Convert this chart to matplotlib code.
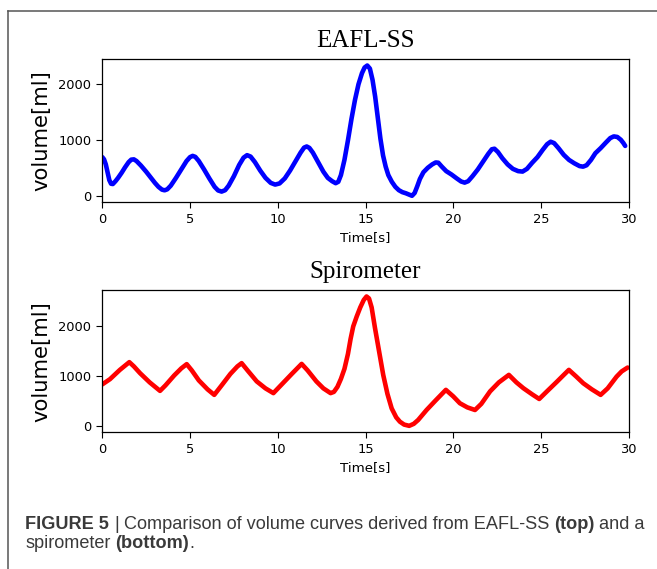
import matplotlib
matplotlib.use("Agg")
import matplotlib.pyplot as plt
from matplotlib.lines import Line2D

# ---------------- data ----------------
eafl_t = [0.0, 0.1, 0.2, 0.3, 0.4, 0.5, 0.6, 0.75, 0.9, 1.1, 1.3, 1.5, 1.65, 1.8,
          1.95, 2.2, 2.5, 2.8, 3.0, 3.2, 3.4, 3.55, 3.7, 3.9, 4.2, 4.5, 4.8, 5.0,
          5.15, 5.3, 5.5, 5.8, 6.1, 6.4, 6.6, 6.8, 7.0, 7.2, 7.5, 7.8, 8.05, 8.25,
          8.45, 8.7, 9.0, 9.3, 9.6, 9.85, 10.1, 10.4, 10.7, 11.0, 11.3, 11.5,
          11.65, 11.8, 12.0, 12.3, 12.6, 12.85, 13.1, 13.3, 13.45, 13.6, 13.8,
          14.0, 14.2, 14.4, 14.6, 14.8, 14.95, 15.1, 15.25, 15.4, 15.55, 15.7,
          15.85, 16.0, 16.15, 16.3, 16.5, 16.7, 16.9, 17.1, 17.3, 17.5, 17.65,
          17.8, 17.95, 18.1, 18.3, 18.55, 18.8, 19.0, 19.15, 19.35, 19.6, 19.9,
          20.2, 20.45, 20.65, 20.85, 21.1, 21.4, 21.7, 22.0, 22.2, 22.35, 22.55,
          22.8, 23.1, 23.4, 23.7, 23.95, 24.2, 24.5, 24.8, 25.1, 25.35, 25.55,
          25.75, 26.0, 26.3, 26.6, 26.9, 27.2, 27.4, 27.6, 27.85, 28.1, 28.4,
          28.7, 28.95, 29.15, 29.35, 29.55, 29.7, 29.8]
eafl_v = [700, 660, 570, 430, 290, 225, 220, 270, 330, 420, 520, 610, 655, 660,
          630, 550, 440, 320, 240, 170, 120, 108, 125, 190, 330, 480, 630, 700,
          722, 705, 630, 480, 320, 170, 105, 85, 110, 190, 360, 560, 690, 735,
          710, 610, 460, 330, 240, 210, 230, 320, 460, 620, 780, 870,
          890, 865, 780, 610, 440, 330, 270, 235, 260, 380, 650,
          1000, 1380, 1720, 2000, 2200, 2300, 2335, 2280, 2080, 1780, 1400,
          1030, 730, 530, 380, 260, 170, 110, 75, 55, 30, 10,
          60, 180, 310, 430, 510, 570, 605, 600, 530, 450, 390,
          320, 265, 245, 270, 360, 480, 620, 760, 840, 850, 790,
          680, 570, 490, 450, 442, 490, 600, 700, 830, 930, 975,
          950, 860, 740, 650, 590, 540, 530, 555, 650, 770, 860,
          960, 1040, 1070, 1060, 1010, 950, 900]

spiro_t = [0.0, 0.44, 1.0, 1.54, 1.8, 2.15, 2.7, 3.29, 3.6, 4.1, 4.5, 4.81, 5.1,
           5.5, 6.0, 6.38, 6.8, 7.3, 7.7, 7.94, 8.3, 8.8, 9.3, 9.75, 10.2, 10.8,
           11.36, 11.7, 12.2, 12.6, 13.01, 13.2, 13.4, 13.6, 13.8, 14.0, 14.15,
           14.3, 14.5, 14.7, 14.9, 15.06, 15.2, 15.35, 15.54, 15.8, 16.01, 16.25,
           16.49, 16.75, 16.96, 17.2, 17.49, 17.75, 18.0, 18.48, 19.0,
           19.58, 20.0, 20.38, 20.8, 21.24, 21.6, 22.1, 22.6, 23.17, 23.6, 24.0,
           24.5, 24.9, 25.4, 25.9, 26.3, 26.59, 27.0, 27.41, 27.9, 28.4, 28.8,
           29.31, 29.6, 29.94]
spiro_v = [840, 945, 1130, 1285, 1200, 1065, 880, 710, 820, 1020, 1160, 1245, 1120,
           920, 740, 630, 820, 1050, 1200, 1265, 1110, 900, 760, 665, 830, 1050,
           1250, 1120, 900, 760, 665, 690, 790, 950, 1150, 1450, 1750,
           2000, 2200, 2380, 2530, 2600, 2560, 2380, 1970, 1450, 1030, 650,
           360, 180, 93, 35, 10, 50, 127, 327, 520,
           730, 600, 462, 380, 327, 450, 700, 880, 1030, 880, 763,
           640, 548, 720, 890, 1030, 1130, 1000, 863, 740, 630, 760,
           995, 1100, 1177]

titles = ["EAFL-SS", "Spirometer"]
colors = ["#0000ff", "#ff0000"]
xlabel = "Time[s]"
ylabel = "volume[ml]"
xticks = [0, 5, 10, 15, 20, 25, 30]
yticks = [0, 1000, 2000]

caption1 = [("FIGURE 5", "bold"), ("|", "normal"),
            ("Comparison of volume curves derived from EAFL-SS", "normal"),
            ("(top)", "bold"), ("and a", "normal")]
caption1_gaps = [True, True, True, True]
caption2 = [("spirometer", "normal"), ("(bottom)", "bold"), (".", "normal")]
caption2_gaps = [True, False]

# ---------------- figure ----------------
W, H = 657, 569
fig = plt.figure(figsize=(W / 100, H / 100), dpi=100)

axes_boxes = [
    [102.3 / W, 1 - 202.3 / H, 526.4 / W, 143.3 / H],
    [102.3 / W, 1 - 432.3 / H, 526.4 / W, 142.3 / H],
]
series = [(eafl_t, eafl_v), (spiro_t, spiro_v)]

for box, (t, v), title, col in zip(axes_boxes, series, titles, colors):
    ax = fig.add_axes(box)
    ax.plot(t, v, color=col, lw=3.3, solid_capstyle="round", solid_joinstyle="round")
    ax.set_xlim(0, 30)
    ax.set_xticks(xticks)
    ax.set_yticks(yticks)
    ax.tick_params(labelsize=9.4, length=4.5, width=0.8)
    ax.set_title(title, fontsize=18, family="Liberation Serif", pad=8.9)
    ax.set_xlabel(xlabel, fontsize=9.6, labelpad=3.5)
    ax.set_ylabel(ylabel, fontsize=15.2)
    ax.yaxis.set_label_coords(-0.097, 0.5)
    for s in ax.spines.values():
        s.set_linewidth(0.9)

# outer frame (left and top edges visible)
fc = "#555555"
fig.add_artist(Line2D([8 / W, 8 / W], [0, 1 - 11 / H], transform=fig.transFigure,
                      color=fc, lw=1.1))
fig.add_artist(Line2D([8 / W, 1], [1 - 11 / H, 1 - 11 / H], transform=fig.transFigure,
                      color=fc, lw=1.1))

# caption, built from runs of normal/bold text
fig.canvas.draw()
renderer = fig.canvas.get_renderer()
fam = "Liberation Sans"
ccol = "#3a3a3a"


def advance(s, weight, size):
    # width of s measured as an advance (independent of glyph ink bearings)
    a = fig.text(0, 0, "I" + s + "I", fontsize=size, weight=weight, family=fam)
    b = fig.text(0, 0, "II", fontsize=size, weight=weight, family=fam)
    w = a.get_window_extent(renderer).width - b.get_window_extent(renderer).width
    a.remove()
    b.remove()
    return w


def space(size):
    return advance(" ", "normal", size)


def line_width(runs, size, gaps):
    sp = space(size)
    total = sum(advance(s, w, size) for s, w in runs)
    total += sp * sum(1 for g in gaps if g)
    return total


target = 646 - 25
base = 12.0
size = base * target / line_width(caption1, base, caption1_gaps)


def draw_runs(runs, x0, ybase, size, gaps):
    sp = space(size)
    x = x0
    for i, (s, wgt) in enumerate(runs):
        fig.text(x / W, 1 - ybase / H, s, fontsize=size, weight=wgt, family=fam,
                 color=ccol, va="baseline", ha="left")
        x += advance(s, wgt, size)
        if i < len(gaps) and gaps[i]:
            x += sp


draw_runs(caption1, 25, 529, size, caption1_gaps)
draw_runs(caption2, 25, 548, size, caption2_gaps)

fig.savefig("out.png", dpi=100)
